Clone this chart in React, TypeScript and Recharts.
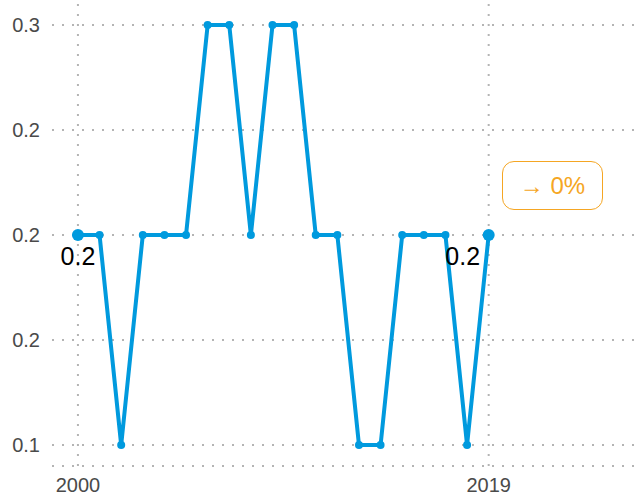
import React from 'react';
import { LineChart, Line, XAxis, YAxis, ReferenceLine } from 'recharts';

const years = [2000, 2001, 2002, 2003, 2004, 2005, 2006, 2007, 2008, 2009, 2010, 2011, 2012, 2013, 2014, 2015, 2016, 2017, 2018, 2019];
const values = [0.2, 0.2, 0.1, 0.2, 0.2, 0.2, 0.3, 0.3, 0.2, 0.3, 0.3, 0.2, 0.2, 0.1, 0.1, 0.2, 0.2, 0.2, 0.1, 0.2];
const yTicks = [0.1, 0.15, 0.2, 0.25, 0.3];
const yTickLabels = ['0.1', '0.2', '0.2', '0.2', '0.3'];
const xTicks = [2000, 2019];
const changeLabel = '→ 0%';

const data = years.map((year, i) => ({ year, value: values[i] }));

const BLUE = '#009ade';
const ORANGE = '#f5a623';
const GRID = '#b4b4b4';
const FONT = '"Liberation Sans", Arial, sans-serif';
const Y_MIN = 0.09;

const last = data.length - 1;

const renderDot = (props: any) => {
    const { cx, cy, index } = props;
    const big = index === 0 || index === last;
    return <circle key={`d${index}`} cx={cx} cy={cy} r={big ? 6 : 4} fill={BLUE} />;
};

const renderLabel = (props: any) => {
    const { x, y, index, value } = props;
    if (index !== 0 && index !== last) return null;
    const dx = index === 0 ? 0 : -26;
    return (
        <text key={`l${index}`} x={x + dx} y={y + 30} textAnchor="middle" fontSize={25} fill="#000" fontFamily={FONT}>
            {String(value)}
        </text>
    );
};

const gridProps = { stroke: GRID, strokeWidth: 2, strokeDasharray: '2 8' };

export default function App() {
    return (
        <div style={{ position: 'absolute', left: 0, top: 0, width: 640, height: 495, fontFamily: FONT }}>
            <LineChart width={640} height={495} data={data} margin={{ top: 4, right: 0, left: 0, bottom: 0 }}>
                {[Y_MIN, ...yTicks].map((t) => (
                    <ReferenceLine key={`h${t}`} y={t} {...gridProps} />
                ))}
                {xTicks.map((t) => (
                    <ReferenceLine key={`v${t}`} x={t} {...gridProps} />
                ))}
                <XAxis
                    dataKey="year"
                    type="number"
                    domain={[1998.8, 2026]}
                    ticks={xTicks}
                    axisLine={false}
                    tickLine={false}
                    height={29}
                    tickMargin={6}
                    tick={{ fill: '#4a4a4a', fontSize: 20, fontFamily: FONT }}
                />
                <YAxis
                    type="number"
                    domain={[Y_MIN, 0.31]}
                    ticks={yTicks}
                    allowDataOverflow
                    axisLine={false}
                    tickLine={false}
                    width={52}
                    tickMargin={6}
                    tickFormatter={(v: number) => yTickLabels[yTicks.indexOf(v)] ?? ''}
                    tick={{ fill: '#4a4a4a', fontSize: 20, fontFamily: FONT }}
                />
                <Line
                    type="linear"
                    dataKey="value"
                    stroke={BLUE}
                    strokeWidth={4}
                    dot={renderDot}
                    activeDot={false}
                    label={renderLabel}
                    isAnimationActive={false}
                />
            </LineChart>
            <div
                style={{
                    position: 'absolute',
                    left: 502,
                    top: 161,
                    width: 99,
                    height: 47,
                    border: `1px solid ${ORANGE}`,
                    borderRadius: 12,
                    color: ORANGE,
                    fontSize: 24,
                    display: 'flex',
                    alignItems: 'center',
                    justifyContent: 'center',
                }}
            >
                {changeLabel}
            </div>
        </div>
    );
}
